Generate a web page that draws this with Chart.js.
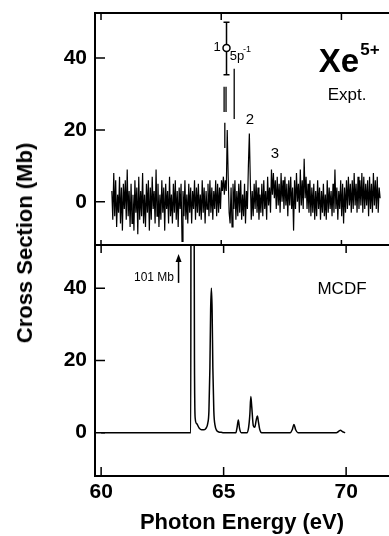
<!DOCTYPE html>
<html>
<head>
<meta charset="utf-8">
<script src="https://cdn.jsdelivr.net/npm/chart.js@4.4.1/dist/chart.umd.min.js"></script>
<style>
  body { margin: 0; background: #fff; }
  #wrap { position: relative; width: 389px; height: 536px; overflow: hidden; font-family: "Liberation Sans", Arial, sans-serif; color: #000; }
  canvas { position: absolute; left: 0; }
  #top { top: 0; }
  #bottom { top: 240px; }
  .lbl { position: absolute; transform: translate(-50%, -50%); white-space: nowrap; line-height: 1; }
</style>
</head>
<body>
<div id="wrap">
  <canvas id="top" width="389" height="246"></canvas>
  <canvas id="bottom" width="389" height="296"></canvas>

  <div class="lbl" style="left:25px;top:243px;font-size:22px;font-weight:bold;transform:translate(-50%,-50%) rotate(-90deg)">Cross Section (Mb)</div>

  <div class="lbl" style="left:217px;top:46px;font-size:13px">1</div>
  <div class="lbl" style="left:237px;top:55px;font-size:13px">5p</div>
  <div class="lbl" style="left:247px;top:49px;font-size:9px">-1</div>
  <div class="lbl" style="left:250px;top:118px;font-size:15px">2</div>
  <div class="lbl" style="left:275px;top:152px;font-size:15px">3</div>
  <div class="lbl" style="left:339px;top:60px;font-size:33px;font-weight:bold">Xe</div>
  <div class="lbl" style="left:370px;top:49px;font-size:17px;font-weight:bold">5+</div>
  <div class="lbl" style="left:347px;top:94px;font-size:17px">Expt.</div>

  <div class="lbl" style="left:154px;top:277px;font-size:12px">101 Mb</div>
  <div class="lbl" style="left:342px;top:288px;font-size:17px">MCDF</div>
</div>

<script>
// axes
const xMin = 59.75;
const xMax = 71.75;
const xTickValues = [60, 65, 70];
const yTickValues = [0, 20, 40];

// experiment: cross section sampled every 0.04 eV starting at 60.45 eV
const exptStart = 60.45;
const exptStep = 0.04;
const exptSigma = [
  3, -5, 8, -4, 6, -7, 2, -3, 7, -6,
  4, -8, 5, -2, 6, -5, 9, -4, 3, -7,
  5, -6, 2, -8, 6, -3, 4, -9, 7, -5,
  3, -4, 8, -6, 2, -7, 5, -3, 6, -8,
  4, -5, 7, -2, 3, -6, 9, -4, 5, -7,
  2, -5, 6, -3, 4, -8, 5, -2, 3, -6,
  7, -4, 2, -6, 5, -3, 6, -5, 3, -7,
  4, -2, 5, -11, 3, -4, 6, -5, 2, -6,
  5, -3, 4, -6, 3, -2, 6, -5, 4, -3,
  5, -4, 2, -5, 6, -3, 4, -6, 3, -2,
  5, -4, 6, -3, 4, -5, 3, -2, 6, -4,
  5, -3, 4, -2, 6, 3, 7, 2, 6, 3,
  20, 7, -3, -6, 4, -7, 5, -2, 6, -5,
  3, -4, 5, -3, 6, -5, 2, -4, 5, -6,
  3, -2, 10, 19, 6, -5, 3, -4, 5, -2,
  6, -3, 4, -5, 2, -3, 5, -4, 6, -2,
  3, -5, 7, -1, 4, -3, 9, 2, 8, 1,
  6, -2, 7, -1, 5, -3, 8, 0, 6, -2,
  7, -1, 5, -4, 6, -1, 7, -2, 4, -8,
  6, -2, 8, 0, 5, -3, 9, -1, 6, -2,
  12, 1, 7, -2, 5, -3, 6, -4, 4, -3,
  5, -5, 3, -4, 6, -2, 4, -5, 3, -3,
  5, -4, 2, -5, 6, -3, 4, -2, 3, -4,
  5, -3, 9, -2, 4, -5, 3, -2, 6, -4,
  5, -6, 4, -3, 6, -2, 7, -1, 5, -3,
  6, -2, 8, -1, 5, -3, 7, -2, 6, -1,
  8, -3, 7, -2, 5, -1, 6, -4, 7, -2,
  5, -3, 8, -1, 6, -2, 7, -3, 4, 1
];

// point "1" with its error bar
const pointEnergy = 65.22;
const pointSigma = 42.8;
const pointErrLow = 35.3;
const pointErrHigh = 49.9;

// short vertical marks near the 5p^-1 threshold
const markEnergy = [65.12, 65.15, 65.2, 65.54];
const markLow = [25, 15, 25, 23];
const markHigh = [32, 22, 32, 37];

// MCDF calculation
const mcdfEnergy = [60.0, 63.66, 63.67, 63.78, 63.81, 63.84, 63.9, 64.0, 64.1, 64.2,
  64.28, 64.35, 64.4, 64.44, 64.47, 64.5, 64.53, 64.56, 64.6, 64.65,
  64.72, 64.8, 64.9, 65.0, 65.5, 65.55, 65.6, 65.65, 65.72, 65.95,
  66.02, 66.07, 66.11, 66.15, 66.21, 66.27, 66.33, 66.38, 66.42, 66.47,
  66.55, 67.72, 67.8, 67.87, 67.94, 68.03, 69.6, 69.7, 69.77, 69.85, 69.96];
const mcdfSigma = [0, 0, 101, 101, 20, 4, 2.5, 1.3, 0.8, 0.8,
  1.2, 2.5, 6, 18, 34, 40, 34, 18, 6, 2,
  0.6, 0.2, 0.1, 0, 0, 1.5, 3.5, 1.2, 0, 0,
  1.5, 5, 10, 7, 2, 1.5, 3.5, 4.6, 3, 1,
  0, 0, 0.8, 2.3, 0.8, 0, 0, 0.4, 0.7, 0.3, 0];

// "101 Mb" arrow
const arrowEnergy = 63.16;
const arrowFrom = 41.5;
const arrowTo = 49.5;

const fam = '"Liberation Sans", Arial, sans-serif';

// the two panels' plot areas, in canvas pixels
const topArea = { top: 13, bottom: 245 };
const bottomArea = { top: 5, bottom: 236 };

const frame = {
  id: 'frame',
  afterDatasetsDraw(chart, args, o) {
    const ctx = chart.ctx;
    const a = chart.chartArea;
    const x = chart.scales.x;
    const y = chart.scales.y;
    ctx.save();
    ctx.strokeStyle = '#000';
    ctx.lineWidth = 2;
    ctx.beginPath();
    if (o.topLine) { ctx.moveTo(a.left, a.top); ctx.lineTo(chart.width, a.top); }
    ctx.moveTo(a.left, a.top - 1); ctx.lineTo(a.left, a.bottom + 1);
    ctx.moveTo(a.left, a.bottom); ctx.lineTo(chart.width, a.bottom);
    ctx.stroke();

    ctx.lineWidth = 1.5;
    ctx.beginPath();
    xTickValues.forEach(v => {
      const px = x.getPixelForValue(v);
      if (o.topTick) { ctx.moveTo(px, a.top); ctx.lineTo(px, a.top + o.topTick); }
      if (o.bottomTick) { ctx.moveTo(px, a.bottom); ctx.lineTo(px, a.bottom - o.bottomTick); }
    });
    yTickValues.forEach(v => {
      const py = y.getPixelForValue(v);
      ctx.moveTo(a.left, py); ctx.lineTo(a.left + o.leftTick, py);
    });
    ctx.stroke();

    if (o.arrow) {
      const px = x.getPixelForValue(arrowEnergy);
      const p1 = y.getPixelForValue(arrowFrom);
      const p2 = y.getPixelForValue(arrowTo);
      ctx.beginPath();
      ctx.moveTo(px, p1); ctx.lineTo(px, p2 + 6);
      ctx.stroke();
      ctx.fillStyle = '#000';
      ctx.beginPath();
      ctx.moveTo(px, p2); ctx.lineTo(px - 3, p2 + 8); ctx.lineTo(px + 3, p2 + 8);
      ctx.closePath();
      ctx.fill();
    }
    ctx.restore();
  }
};

// pin the plot area vertically so both panels line up
function pinArea(area) {
  return {
    id: 'pinArea',
    afterLayout(chart) {
      const a = chart.chartArea;
      a.top = area.top;
      a.bottom = area.bottom;
      a.height = area.bottom - area.top;
      const y = chart.scales.y;
      y.top = area.top;
      y.bottom = area.bottom;
      y.height = a.height;
      y.configure();
    }
  };
}

function yAxis(min, max) {
  return {
    min: min,
    max: max,
    afterFit: s => { s.width = 95; s.paddingTop = 0; s.paddingBottom = 0; },
    afterBuildTicks: s => { s.ticks = yTickValues.map(v => ({ value: v })); },
    grid: { display: false, drawTicks: false },
    border: { display: false },
    ticks: { color: '#000', padding: 8, font: { family: fam, size: 21, weight: 'bold' } }
  };
}

const exptPoints = exptSigma.map((v, i) => ({ x: exptStart + i * exptStep, y: v }));
const markPoints = [];
markEnergy.forEach((e, i) => {
  markPoints.push({ x: e, y: markLow[i] }, { x: e, y: markHigh[i] }, { x: e, y: null });
});

new Chart(document.getElementById('top'), {
  type: 'line',
  data: {
    datasets: [
      {
        data: [{ x: pointEnergy, y: pointSigma }],
        showLine: false,
        pointStyle: 'circle',
        pointRadius: 3.5,
        pointBackgroundColor: '#fff',
        pointBorderColor: '#000',
        pointBorderWidth: 1.5,
        order: 0
      },
      {
        data: [{ x: pointEnergy, y: pointErrLow }, { x: pointEnergy, y: pointErrHigh }],
        borderColor: '#000',
        borderWidth: 1.5,
        pointStyle: 'line',
        pointRadius: 3,
        pointBorderColor: '#000',
        pointBorderWidth: 1.5,
        order: 1
      },
      {
        data: markPoints,
        borderColor: '#000',
        borderWidth: 1.3,
        pointRadius: 0,
        spanGaps: false,
        order: 2
      },
      {
        data: exptPoints,
        borderColor: '#000',
        borderWidth: 1.2,
        pointRadius: 0,
        tension: 0,
        order: 3
      }
    ]
  },
  options: {
    responsive: false,
    animation: false,
    events: [],
    layout: { padding: { top: 13, right: 0, bottom: 1, left: 0 } },
    plugins: {
      legend: { display: false },
      tooltip: { enabled: false },
      frame: { topLine: true, topTick: 7, bottomTick: 5, leftTick: 10 }
    },
    scales: {
      x: {
        type: 'linear',
        min: xMin,
        max: xMax,
        afterFit: s => { s.height = 0; s.paddingLeft = 0; s.paddingRight = 0; },
        grid: { display: false, drawTicks: false },
        border: { display: false },
        ticks: { display: false }
      },
      y: yAxis(-12, 52.5)
    }
  },
  plugins: [pinArea(topArea), frame]
});

new Chart(document.getElementById('bottom'), {
  type: 'line',
  data: {
    datasets: [
      {
        data: mcdfEnergy.map((e, i) => ({ x: e, y: mcdfSigma[i] })),
        borderColor: '#000',
        borderWidth: 1.5,
        pointRadius: 0,
        cubicInterpolationMode: 'monotone'
      }
    ]
  },
  options: {
    responsive: false,
    animation: false,
    events: [],
    layout: { padding: { top: 5, right: 0, bottom: 0, left: 0 } },
    plugins: {
      legend: { display: false },
      tooltip: { enabled: false },
      frame: { topLine: true, topTick: 8, bottomTick: 9, leftTick: 10, arrow: true }
    },
    scales: {
      x: {
        type: 'linear',
        min: xMin,
        max: xMax,
        afterFit: s => { s.height = 60; s.paddingLeft = 0; s.paddingRight = 0; },
        afterBuildTicks: s => { s.ticks = xTickValues.map(v => ({ value: v })); },
        grid: { display: false, drawTicks: false },
        border: { display: false },
        ticks: { color: '#000', padding: 4, maxRotation: 0, font: { family: fam, size: 21, weight: 'bold' } },
        title: {
          display: true,
          text: 'Photon Energy (eV)',
          color: '#000',
          padding: { top: 0, bottom: 0 },
          font: { family: fam, size: 22, weight: 'bold' }
        }
      },
      y: yAxis(-12, 52)
    }
  },
  plugins: [pinArea(bottomArea), frame]
});
</script>
</body>
</html>
